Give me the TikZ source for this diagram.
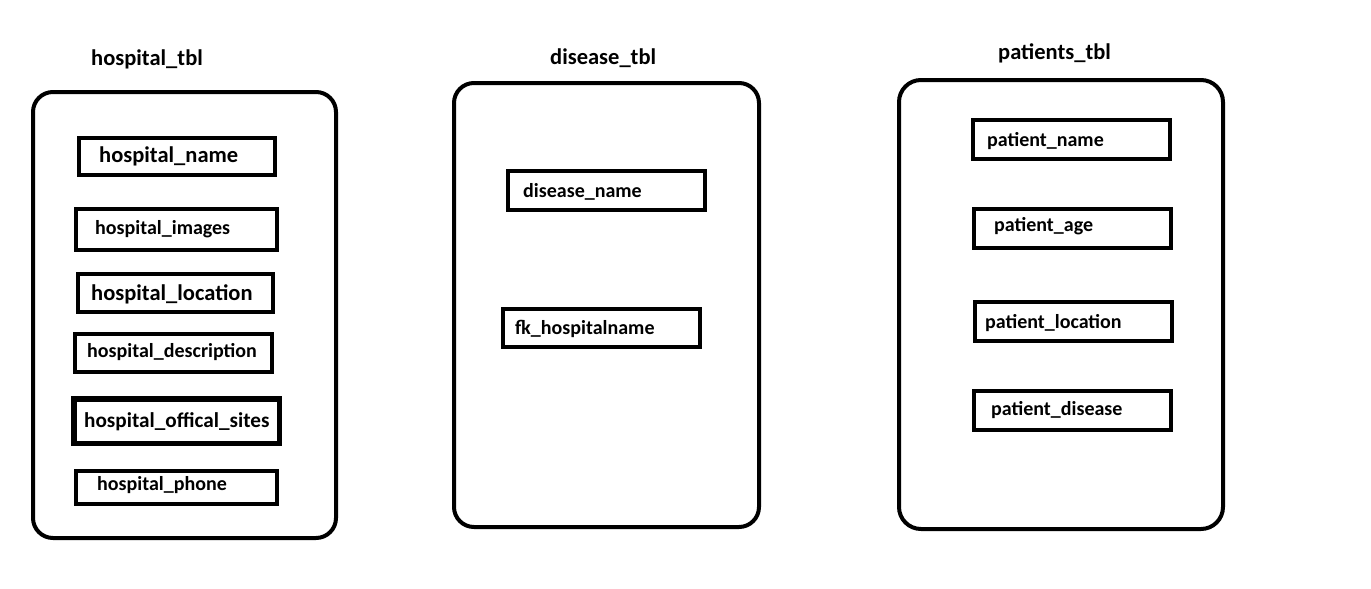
\documentclass[tikz,border=0pt]{standalone}
\usepackage{fontspec}
\setmainfont{Carlito}
\begin{document}
\begin{tikzpicture}[x=1pt,y=-1pt,
  tablebox/.style={draw=black,line width=4pt,rounded corners=20pt},
  fieldbox/.style={draw=black,line width=4pt,inner sep=0pt,outer sep=0pt},
  titletext/.style={anchor=base west,inner sep=0pt,font=\fontsize{22.5}{26}\selectfont\bfseries},
  fieldtext/.style={anchor=base west,inner sep=0pt,font=\fontsize{20}{24}\selectfont\bfseries},
  bigtext/.style={anchor=base west,inner sep=0pt,font=\fontsize{22.5}{26}\selectfont\bfseries}]
\useasboundingbox[fill=white] (0,0) rectangle (1371,589);
% tables
\draw[tablebox] (33,92) rectangle (336,538);
\draw[tablebox] (454,83) rectangle (759,527);
\draw[tablebox,rounded corners=22pt] (899,80) rectangle (1223,529);
% titles
\node[titletext] (t1) at (91,65) {hospital\_tbl};
\node[titletext] (t2) at (550,64) {disease\_tbl};
\node[titletext] (t3) at (998,59) {patients\_tbl};
% hospital fields
\node[fieldbox,minimum width=196,minimum height=37] (hname) at (177,156.5) {};
\node[bigtext] (hnamet) at (99,162) {hospital\_name};
\node[fieldbox,minimum width=201,minimum height=41] (himg) at (176.5,229.5) {};
\node[fieldtext] (himgt) at (95,234) {hospital\_images};
\node[fieldbox,minimum width=195,minimum height=38] (hloc) at (175.5,293) {};
\node[bigtext] (hloct) at (91,300) {hospital\_location};
\node[fieldbox,minimum width=197,minimum height=38] (hdesc) at (173.5,353) {};
\node[fieldtext] (hdesct) at (87,357) {hospital\_description};
\node[fieldbox,line width=5.5pt,minimum width=205.5,minimum height=44.5] (hsite) at (176.5,421) {};
\node[fieldtext,font=\fontsize{21.2}{25}\selectfont\bfseries] (hsitet) at (84,427) {hospital\_offical\_sites};
\node[fieldbox,minimum width=201,minimum height=33] (hphone) at (176.5,487.5) {};
\node[fieldtext] (hphonet) at (97,490) {hospital\_phone};
% disease fields
\node[fieldbox,minimum width=197,minimum height=39] (dname) at (606.5,190.5) {};
\node[fieldtext] (dnamet) at (523,197) {disease\_name};
\node[fieldbox,minimum width=197,minimum height=38] (dfk) at (601.5,328) {};
\node[fieldtext] (dfkt) at (515,334) {fk\_hospitalname};
% patient fields
\node[fieldbox,minimum width=197,minimum height=39] (pname) at (1071.5,139.5) {};
\node[fieldtext] (pnamet) at (987,146) {patient\_name};
\node[fieldbox,minimum width=197,minimum height=39] (page) at (1072.5,228.5) {};
\node[fieldtext] (paget) at (994,231) {patient\_age};
\node[fieldbox,minimum width=197,minimum height=39] (ploc) at (1073.5,321.5) {};
\node[fieldtext] (ploct) at (985,328) {patient\_location};
\node[fieldbox,minimum width=197,minimum height=39] (pdis) at (1072.5,410.5) {};
\node[fieldtext] (pdist) at (991,415) {patient\_disease};
\end{tikzpicture}
\end{document}
